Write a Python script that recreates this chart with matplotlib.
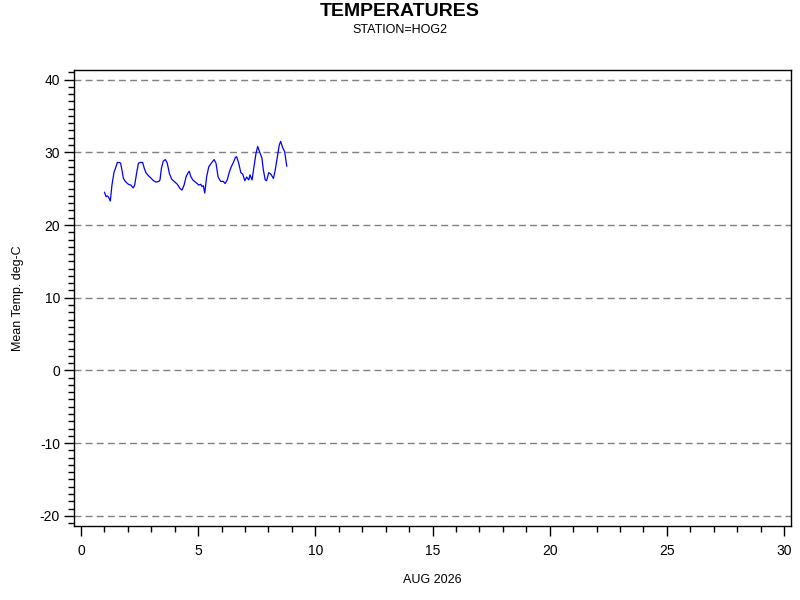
import matplotlib
matplotlib.use("Agg")
import matplotlib.pyplot as plt
from matplotlib.ticker import MultipleLocator

plt.rcParams['font.family'] = ['Liberation Sans', 'DejaVu Sans']
plt.rcParams['axes.unicode_minus'] = False

# day of month (fractional) and mean temperature (deg C)
days = [1.00, 1.07, 1.12, 1.18, 1.25, 1.32, 1.41, 1.46, 1.55, 1.63, 1.69, 1.75, 1.81, 1.89,
        2.02, 2.12, 2.23, 2.29, 2.38, 2.45, 2.52, 2.63, 2.70, 2.77, 2.87, 2.97,
        3.09, 3.20, 3.32, 3.37, 3.43, 3.51, 3.60, 3.68, 3.77, 3.87,
        4.01, 4.11, 4.23, 4.31, 4.40, 4.48, 4.57, 4.62, 4.68, 4.77, 4.88, 4.96,
        5.02, 5.11, 5.16, 5.22, 5.28, 5.36, 5.45, 5.56, 5.68, 5.76, 5.85, 5.96,
        6.07, 6.15, 6.24, 6.33, 6.41, 6.50, 6.59, 6.64, 6.73, 6.82, 6.90, 6.99,
        7.07, 7.16, 7.21, 7.30, 7.38, 7.47, 7.54, 7.64, 7.72, 7.78, 7.86, 7.92,
        8.01, 8.10, 8.21, 8.29, 8.38, 8.46, 8.52, 8.61, 8.69, 8.78]
temps = [24.5, 23.9, 24.0, 23.8, 23.3, 25.5, 27.3, 27.7, 28.6, 28.6, 28.5, 27.5, 26.4, 26.0,
         25.6, 25.5, 25.1, 25.5, 27.3, 28.5, 28.6, 28.6, 27.8, 27.2, 26.8, 26.5,
         26.1, 25.9, 26.0, 26.2, 27.8, 28.8, 29.0, 28.5, 27.1, 26.3,
         25.9, 25.6, 25.0, 24.8, 25.5, 26.6, 27.2, 27.4, 26.7, 26.2, 25.9, 25.7,
         25.5, 25.6, 25.3, 25.4, 24.4, 26.6, 28.0, 28.5, 29.0, 28.5, 26.6, 26.0,
         26.0, 25.7, 26.2, 27.3, 28.0, 28.6, 29.3, 29.4, 28.5, 27.2, 27.0, 26.1,
         26.6, 26.2, 26.9, 26.2, 28.0, 29.9, 30.8, 29.9, 29.2, 27.6, 26.2, 26.1,
         27.2, 27.0, 26.4, 27.6, 29.4, 31.0, 31.5, 30.6, 30.1, 28.1]

y_ticks = [-20, -10, 0, 10, 20, 30, 40]
x_ticks = [0, 5, 10, 15, 20, 25, 30]

fig = plt.figure(figsize=(8, 6), dpi=100)
ax = fig.add_axes([74/800, 1 - 526/600, (791 - 74)/800, (526 - 70)/600])

for yv in y_ticks:
    ax.axhline(yv, color='#808080', linestyle=(0, (5, 3)), linewidth=1, zorder=1)

ax.plot(days, temps, color='#0000ff', linewidth=0.9, zorder=3)

ax.set_xlim(-0.30, 30.30)
ax.set_ylim(-21.4, 41.32)

ax.set_xticks(x_ticks)
ax.set_yticks(y_ticks)
ax.xaxis.set_minor_locator(MultipleLocator(1))
ax.yaxis.set_minor_locator(MultipleLocator(1))
ax.tick_params(axis='both', which='major', length=7, width=1, color='black',
               labelsize=10, direction='out')
ax.tick_params(axis='both', which='minor', length=4, width=1, color='black',
               direction='out')
ax.tick_params(axis='x', which='both', pad=6)
ax.tick_params(axis='y', which='major', pad=3)
for s in ax.spines.values():
    s.set_linewidth(1)
    s.set_color('black')

fig.text(18/800, 1 - 298/600, 'Mean Temp. deg-C', ha='center', va='center',
         rotation=90, fontsize=9)
fig.text(432/800, 1 - 580/600, 'AUG 2026', ha='center', va='center', fontsize=9)

fig.text(0.5, 1 - 11/600, 'TEMPERATURES', ha='center', va='center',
         fontsize=14, fontweight='bold')
fig.text(0.5, 1 - 30/600, 'STATION=HOG2', ha='center', va='center', fontsize=9)

fig.savefig('out.png', dpi=100)
